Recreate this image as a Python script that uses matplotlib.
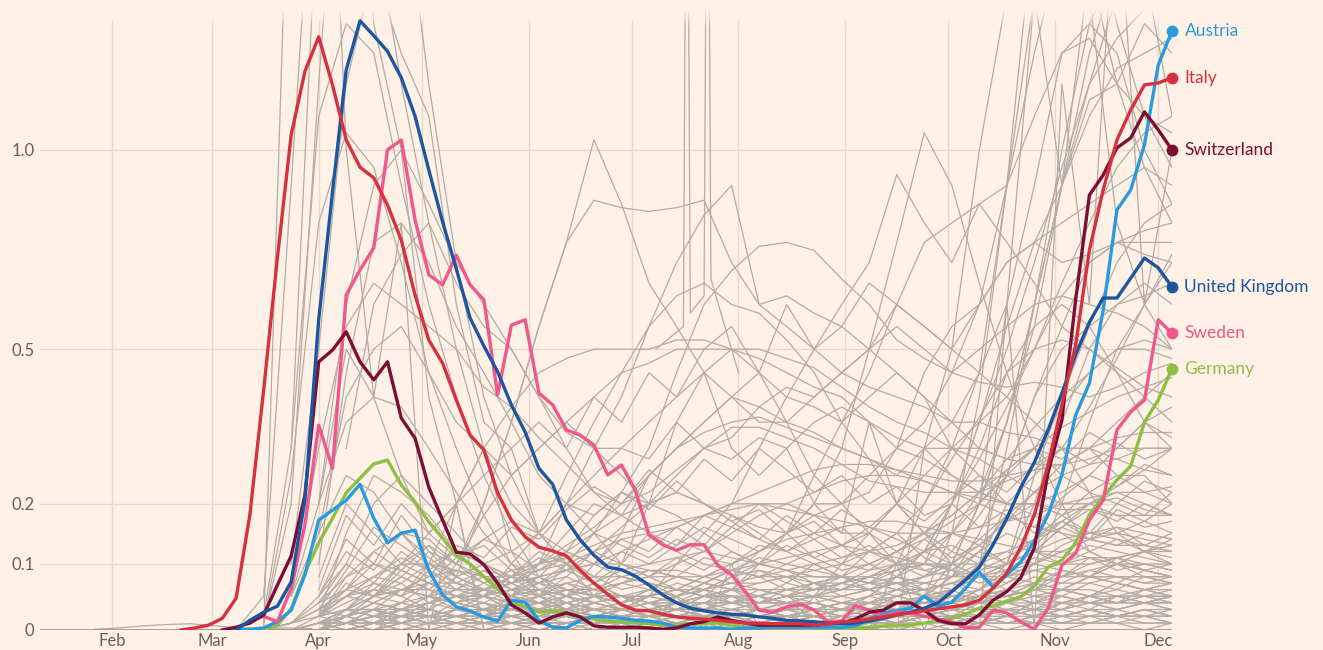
import numpy as np
import pandas as pd
import matplotlib
matplotlib.use('Agg')
import matplotlib.pyplot as plt

n = np.nan

# highlighted countries, one value every 4 days, 21 Feb -> 5 Dec 2020
dates = pd.date_range('2020-02-21', '2020-12-05', freq='4D')

italy = [0.0, 0.003, 0.007, 0.017, 0.047, 0.181, 0.414, 0.712, 1.044, 1.24, 1.355, 1.197, 1.029, 0.951,
         0.921, 0.847, 0.756, 0.622, 0.520, 0.470, 0.394, 0.325, 0.297, 0.219, 0.172, 0.144, 0.127, 0.121,
         0.113, 0.090, 0.070, 0.053, 0.037, 0.029, 0.028, 0.023, 0.019, 0.017, 0.016, 0.014, 0.012, 0.010,
         0.010, 0.009, 0.009, 0.009, 0.007, 0.009, 0.012, 0.013, 0.016, 0.019, 0.022, 0.025, 0.028, 0.031,
         0.034, 0.037, 0.044, 0.062, 0.086, 0.126, 0.181, 0.269, 0.384, 0.509, 0.731, 0.888, 1.029, 1.119,
         1.197, 1.203, 1.22]
uk = [0.0, 0.014, 0.026, 0.035, 0.072, 0.206, 0.565, 0.881, 1.245, 1.41, 1.359, 1.306, 1.22, 1.10, 0.943,
      0.803, 0.684, 0.569, 0.507, 0.452, 0.384, 0.331, 0.263, 0.234, 0.172, 0.139, 0.114, 0.095, 0.091,
      0.081, 0.067, 0.052, 0.040, 0.032, 0.028, 0.025, 0.023, 0.022, 0.019, 0.017, 0.014, 0.013, 0.012,
      0.010, 0.009, 0.010, 0.013, 0.017, 0.022, 0.026, 0.032, 0.040, 0.057, 0.075, 0.095, 0.131, 0.175,
      0.228, 0.274, 0.335, 0.408, 0.488, 0.560, 0.615, 0.615, 0.662, 0.711, 0.687, 0.641]
switzerland = [0.0, 0.004, 0.010, 0.022, 0.067, 0.113, 0.215, 0.473, 0.498, 0.538, 0.473, 0.435, 0.473,
               0.358, 0.319, 0.229, 0.172, 0.119, 0.116, 0.099, 0.070, 0.037, 0.025, 0.010, 0.019, 0.025,
               0.019, 0.006, 0.004, 0.004, 0.004, 0.003, 0.001, 0.003, 0.009, 0.012, 0.019, 0.014, 0.010,
               0.007, 0.007, 0.007, 0.007, 0.007, 0.009, 0.010, 0.016, 0.026, 0.029, 0.040, 0.040, 0.029,
               0.014, 0.009, 0.009, 0.022, 0.044, 0.057, 0.078, 0.126, 0.256, 0.354, 0.611, 0.874, 0.929,
               1.006, 1.035, 1.113, 1.059, 1.0]
sweden = [0.014, 0.020, 0.012, 0.062, 0.164, 0.344, 0.263, 0.622, 0.682, 0.736, 1.0, 1.029, 0.808, 0.670,
          0.646, 0.718, 0.646, 0.611, 0.404, 0.553, 0.565, 0.408, 0.384, 0.335, 0.325, 0.306, 0.251, 0.269,
          0.224, 0.147, 0.131, 0.122, 0.131, 0.131, 0.098, 0.083, 0.057, 0.029, 0.026, 0.034, 0.038, 0.029,
          0.012, 0.013, 0.036, 0.029, 0.020, 0.026, 0.025, 0.020, 0.016, 0.012, 0.003, 0.004, 0.029, 0.025,
          0.012, 0.001, 0.032, 0.098, 0.117, 0.172, 0.206, 0.335, 0.370, 0.394, 0.565, 0.535]
germany = [0.0, 0.001, 0.001, 0.007, 0.031, 0.086, 0.134, 0.175, 0.219, 0.245, 0.271, 0.278, 0.233, 0.203,
           0.169, 0.142, 0.114, 0.100, 0.080, 0.061, 0.043, 0.034, 0.026, 0.028, 0.025, 0.019, 0.016, 0.013,
           0.012, 0.010, 0.009, 0.007, 0.007, 0.009, 0.009, 0.010, 0.006, 0.004, 0.003, 0.003, 0.003, 0.003,
           0.003, 0.003, 0.003, 0.003, 0.004, 0.006, 0.006, 0.007, 0.010, 0.013, 0.017, 0.023, 0.032, 0.035,
           0.043, 0.049, 0.066, 0.095, 0.106, 0.134, 0.181, 0.212, 0.242, 0.267, 0.350, 0.394, 0.458]
austria = [0.0, 0.001, 0.003, 0.012, 0.029, 0.083, 0.172, 0.189, 0.206, 0.234, 0.175, 0.134, 0.150, 0.155,
           0.090, 0.052, 0.034, 0.028, 0.019, 0.013, 0.044, 0.041, 0.014, 0.004, 0.003, 0.014, 0.020, 0.019,
           0.017, 0.014, 0.013, 0.010, 0.004, 0.003, 0.003, 0.003, 0.001, 0.003, 0.003, 0.004, 0.004, 0.004,
           0.004, 0.004, 0.004, 0.006, 0.016, 0.025, 0.028, 0.032, 0.050, 0.035, 0.041, 0.062, 0.087, 0.064,
           0.083, 0.103, 0.137, 0.181, 0.251, 0.364, 0.428, 0.587, 0.834, 0.888, 1.015, 1.261, 1.375]

names = ['Germany', 'Austria', 'Sweden', 'Switzerland', 'United Kingdom', 'Italy']
series = [germany, austria, sweden, switzerland, uk, italy]
colors = ['#8fbe45', '#2a9ae0', '#f0578b', '#7d0e33', '#1c56a0', '#d7303f']

# all other countries, one value every 8 days, 28 Jan -> 5 Dec (every series ends on 5 Dec)
grey_dates = pd.date_range('2020-01-28', '2020-12-05', freq='8D')
grey = [
    [0.0, 0.05, 0.9, 2.5, 2.6, 1.8, 1.2, 0.8, 0.5, 0.3, 0.12, 0.05, 0.03, 0.02, 0.02, 0.02, 0.03, 0.04, 0.06, 0.1, 0.15, 0.25, 0.35, 0.45, 0.6, 0.75, 0.8, 0.85, 0.9, 1.1, 1.3, 1.4, 1.3, 1.0, 0.85],
    [0.01, 0.2, 1.2, 2.8, 3.0, 2.0, 1.2, 0.7, 0.4, 0.25, 0.15, 0.1, 0.07, 0.05, 0.04, 0.05, 0.06, 0.08, 0.09, 0.08, 0.06, 0.06, 0.07, 0.1, 0.2, 0.3, 0.45, 0.9, 1.8, 3.5, 3.6, 2.5, 1.6, 1.1],
    [0.02, 0.3, 1.1, 1.4, 1.3, 0.9, 0.6, 0.4, 0.25, 0.15, 0.08, 0.05, 0.04, 0.03, 0.02, 0.02, 0.02, 0.02, 0.03, 0.04, 0.05, 0.1, 0.15, 0.2, 0.3, 0.35, 0.45, 0.6, 0.9, 1.3, 1.35, 1.2, 0.95, 0.8],
    [0.01, 0.25, 0.8, 1.05, 0.95, 0.7, 0.45, 0.3, 0.18, 0.1, 0.06, 0.04, 0.03, 0.02, 0.01, 0.01, 0.01, 0.01, 0.02, 0.02, 0.02, 0.03, 0.05, 0.08, 0.12, 0.2, 0.3, 0.45, 0.55, 0.6, 0.55, 0.45, 0.35, 0.3],
    [0.1, 0.5, 1.2, 1.6, 1.3, 1.1, 0.6, 0.35, 0.3, 0.15, 0.1, 0.05, 0.05, 0.03, 0.02, 0.02, 0.01, 0.01, 0.02, 0.02, 0.03, 0.03, 0.04, 0.05, 0.08, 0.1, 0.2, 0.25, 0.3, 0.22, 0.15, 0.12, 0.1],
    [0.0, 2.5, 4.0, 1.0, 0.4, 0.8, 0.0, 0.2, 0.0, 0.0, 0.0, 0.0, 0.0, 0.0, 0.0, 0.0, 0.0, 0.0, 0.0, 0.0, 0.0, 0.0, 0.0, 0.0, 0.0, 0.0, 0.0, 0.6, 0.0, 1.2, 0.6, 2.0, 0.6, 1.0],
    [0.3, 2.0, 3.0, 1.4, 1.0, 0.4, 0.2, 0.0, 0.0, 0.0, 0.0, 0.0, 0.0, 0.0, 0.0, 0.0, 0.0, 0.0, 0.0, 0.0, 0.0, 0.0, 0.0, 0.3, 0.5, 1.0, 1.5, 2.0, 2.2, 1.5, 0.8, 0.6, 0.5],
    [0.05, 0.3, 0.55, 0.65, 0.6, 0.55, 0.5, 0.42, 0.38, 0.32, 0.27, 0.22, 0.2, 0.22, 0.26, 0.3, 0.34, 0.34, 0.32, 0.3, 0.27, 0.24, 0.23, 0.22, 0.22, 0.22, 0.24, 0.26, 0.3, 0.38, 0.48, 0.6, 0.72],
    [0.1, 0.45, 0.75, 0.8, 0.7, 0.55, 0.45, 0.35, 0.25, 0.2, 0.15, 0.1, 0.08, 0.06, 0.05, 0.05, 0.04, 0.04, 0.03, 0.03, 0.03, 0.04, 0.04, 0.05, 0.06, 0.1, 0.2, 0.35, 0.5, 0.6, 0.65, 0.6],
    [0.2, 0.6, 0.9, 1.0, 0.85, 0.7, 0.6, 0.5, 0.4, 0.33, 0.3, 0.25, 0.2, 0.18, 0.15, 0.12, 0.1, 0.09, 0.08, 0.08, 0.08, 0.09, 0.1, 0.15, 0.22, 0.35, 0.55, 0.9, 1.2, 1.5, 1.7, 1.6],
    [0.15, 0.4, 0.5, 0.55, 0.45, 0.35, 0.3, 0.2, 0.15, 0.12, 0.1, 0.08, 0.07, 0.06, 0.05, 0.05, 0.04, 0.05, 0.06, 0.07, 0.09, 0.12, 0.15, 0.2, 0.28, 0.38, 0.5, 0.62, 0.7, 0.75, 0.72, 0.7],
    [0.3, 0.6, 0.72, 0.8, 0.65, 0.55, 0.5, 0.4, 0.3, 0.22, 0.18, 0.15, 0.12, 0.1, 0.09, 0.08, 0.08, 0.07, 0.07, 0.08, 0.1, 0.12, 0.15, 0.2, 0.25, 0.3, 0.38, 0.45, 0.5, 0.5, 0.48],
    [0.05, 0.2, 0.35, 0.4, 0.38, 0.3, 0.22, 0.15, 0.1, 0.08, 0.06, 0.05, 0.05, 0.04, 0.04, 0.04, 0.05, 0.05, 0.06, 0.07, 0.08, 0.1, 0.12, 0.15, 0.18, 0.22, 0.28, 0.34, 0.4, 0.45, 0.5, 0.52, 0.5],
    [0.05, 0.15, 0.25, 0.22, 0.15, 0.1, 0.07, 0.05, 0.03, 0.02, 0.02, 0.01, 0.01, 0.01, 0.01, 0.01, 0.01, 0.01, 0.01, 0.01, 0.01, 0.01, 0.02, 0.02, 0.03, 0.04, 0.05, 0.06, 0.08, 0.09, 0.1, 0.12, 0.14],
    [0.02, 0.15, 0.25, 0.22, 0.18, 0.12, 0.1, 0.08, 0.07, 0.06, 0.05, 0.05, 0.05, 0.04, 0.04, 0.04, 0.03, 0.03, 0.03, 0.04, 0.05, 0.06, 0.08, 0.12, 0.18, 0.25, 0.4, 0.55, 0.7, 0.75, 0.75, 0.75],
    [0.03, 0.08, 0.2, 0.35, 0.55, 0.75, 1.03, 0.85, 0.65, 0.55, 0.45, 0.4, 0.35, 0.35, 0.33, 0.3, 0.28, 0.25, 0.3, 0.25, 0.22, 0.2, 0.2, 0.18, 0.15, 0.15, 0.14, 0.13],
    [0.1, 0.2, 0.35, 0.55, 0.75, 0.86, 0.84, 0.83, 0.84, 0.86, 0.7, 0.6, 0.62, 0.58, 0.55, 0.5, 0.45, 0.4, 0.3, 0.25, 0.2, 0.18, 0.15, 0.12, 0.1, 0.1, 0.09],
    [0.05, 0.1, 0.18, 0.25, 0.3, 0.35, 0.4, 0.45, 0.47, 0.5, 0.5, 0.5, 0.48, 0.45, 0.42, 0.4, 0.35, 0.32, 0.3, 0.3, 0.3, 0.28, 0.27, 0.27, 0.3, 0.35, 0.4, 0.45],
    [0.05, 0.1, 0.2, 0.3, 0.38, 0.45, 0.48, 0.5, 0.5, 0.5, 0.52, 0.52, 0.5, 0.5, 0.48, 0.46, 0.42, 0.38, 0.35, 0.33, 0.3, 0.28, 0.25, 0.22, 0.2, 0.2, 0.23, 0.26, 0.3],
    [0.05, 0.1, 0.15, 0.22, 0.3, 0.45, 0.6, 0.68, 0.74, 0.75, 0.73, 0.66, 0.6, 0.52, 0.48, 0.45, 0.43, 0.42, 0.43, 0.42, 0.4, 0.42, 0.45, 0.47],
    [0.05, 0.1, 0.15, 0.25, 0.35, 0.45, 0.55, 0.7, 0.82, 0.9, 0.6, 0.55, 0.5, 0.45, 0.42, 0.4, 0.38, 0.35, 0.35, 0.33, 0.32, 0.3, 0.3, 0.28, 0.3, 0.3],
    [0.02, 0.03, 0.05, 0.1, 0.15, 0.2, 0.3, 0.4, 0.5, 0.6, 0.7, 0.93, 0.8, 0.7, 0.85, 0.75, 0.65, 0.55, 0.5, 0.45, 0.4, 0.35],
    [0.05, 0.06, 0.08, 0.1, 0.12, 0.15, 0.2, 0.3, 0.5, 0.75, 1.05, 0.9, 0.65, 0.45, 0.3, 0.2, 0.12, 0.1, 0.08, 0.07],
    [0.05, 0.1, 0.2, 0.3, 0.4, 0.55, 0.62, 0.65, 0.6, 0.58, 0.52, 0.45, 0.35, 0.28, 0.2, 0.15, 0.1, 0.08, 0.06, 0.05, 0.05, 0.04, 0.04, 0.04, 0.05],
    [0.2, 0.5, 0.4, 0.25, 0.15, 0.2, 0.3, 0.25, 0.3, 0.35, 0.3, 0.3, 0.35, 0.4, 0.45, 0.3, 0.25, 0.3, 0.2, 0.15, 0.35, 0.2, 0.15, 0.12, 0.1, 0.12, 0.1, 0.09, 0.08, 0.08, 0.07, 0.07],
    [0.05, 0.1, 0.15, 0.25, 0.3, 0.35, 0.4, 0.45, 0.4, 0.38, 0.35, 0.4, 0.45, 0.4, 0.35, 0.3, 0.28, 0.3, 0.25, 0.22, 0.25, 0.22, 0.2],
    [0.03, 0.05, 0.1, 0.2, 0.35, 0.45, 0.5, 0.45, 0.35, 0.25, 0.2, 0.15, 0.1, 0.09, 0.08, 0.08, 0.09, 0.1, 0.12, 0.14, 0.15, 0.17, 0.2],
    [0.0, 0.0, 0.0, 0.0, 0.0, 0.0, 0.0, 0.0, 0.01, 0.02, 0.05, 0.15, 0.4, 0.9, 1.5, 2.2, 1.8, 1.4, 1.1, 0.95],
    [0.02, 0.03, 0.05, 0.08, 0.12, 0.15, 0.18, 0.2, 0.25, 0.3, 0.35, 0.45, 0.6, 0.9, 1.3, 1.7, 2.0, 2.0, 1.9, 1.8],
    [0.01, 0.01, 0.01, 0.01, 0.01, 0.01, 0.02, 0.03, 0.05, 0.08, 0.12, 0.2, 0.35, 0.5, 0.7, 0.95, 1.2, 1.35, 1.45, 1.5],
    [0.01, 0.01, 0.01, 0.01, 0.02, 0.02, 0.02, 0.03, 0.03, 0.04, 0.05, 0.1, 0.2, 0.35, 0.6, 0.9, 1.15, 1.2, 1.1, 1.05],
    [0.0, 0.0, 0.0, 0.0, 0.0, 0.0, 0.0, 0.0, 0.0, 0.01, 0.03, 0.06, 0.1, 0.3, 0.6, 1.0, 1.4, 1.6, 1.7, 1.8],
    [0.03, 0.03, 0.04, 0.04, 0.04, 0.04, 0.05, 0.05, 0.06, 0.07, 0.08, 0.1, 0.2, 0.35, 0.6, 0.9, 1.3, 1.6, 1.9, 2.0],
    [0.02, 0.05, 0.08, 0.1, 0.1, 0.09, 0.08, 0.08, 0.09, 0.1, 0.12, 0.14, 0.15, 0.16, 0.18, 0.2, 0.2, 0.2, 0.18, 0.15, 0.15, 0.2, 0.25, 0.3, 0.35, 0.4, 0.5, 0.65, 0.8, 0.95, 1.05, 1.1],
    [0.0, 0.01, 0.02, 0.03, 0.04, 0.05, 0.06, 0.08, 0.1, 0.12, 0.15, 0.18, 0.2, 0.22, 0.2, 0.18, 0.16, 0.15, 0.2, 0.2, 0.22, 0.3, 0.45, 0.55, 0.6, 0.7, 0.75, 0.8, 0.85, 0.9, 0.95, 0.9],
    [0.0, 0.05, 0.0, 0.1, 0.0, 0.0, 0.05, 0.0, 0.0, 0.1, 0.0, 0.1, 0.2, 0.6, 1.5, 0.9, 1.6, 1.2, 1.4, 1.3],
    [0.02, 0.02, 0.03, 0.03, 0.03, 0.04, 0.05, 0.06, 0.08, 0.1, 0.1, 0.2, 0.35, 0.55, 0.75, 0.9, 1.1, 1.25, 1.3, 1.35],
    [0.02, 0.02, 0.02, 0.02, 0.02, 0.03, 0.03, 0.03, 0.04, 0.05, 0.06, 0.07, 0.08, 0.1, 0.25, 0.4, 0.55, 0.7, 0.8, 0.85],
    [0.01, 0.01, 0.01, 0.01, 0.01, 0.01, 0.01, 0.01, 0.01, 0.01, 0.02, 0.03, 0.05, 0.08, 0.1, 0.2, 0.35, 0.5, 0.6, 0.7],
    [0.01, 0.03, 0.05, 0.06, 0.06, 0.05, 0.05, 0.04, 0.04, 0.04, 0.05, 0.05, 0.05, 0.06, 0.06, 0.07, 0.07, 0.08, 0.08, 0.08, 0.07, 0.07, 0.07, 0.08, 0.15, 0.25, 0.4, 0.5, 0.55, 0.6, 0.62, 0.65],
    [0.05, 0.1, 0.15, 0.2, 0.25, 0.3, 0.35, 0.3, 0.4, 0.35, 0.45, 0.4, 0.5, 0.55, 0.45, 0.6, 0.5, 0.55, 0.65, 0.6, 0.55, 0.5, 0.45, 0.4, 0.35, 0.3, 0.3, 0.25, 0.25, 0.2],
    [0.05, 0.08, 0.1, 0.12, 0.15, 0.2, 0.25, 0.3, 0.28, 0.35, 0.3, 0.32, 0.38, 0.42, 0.4, 0.45, 0.5, 0.55, 0.5, 0.45, 0.5, 0.55, 0.6, 0.62, 0.6, 0.58, 0.55, 0.5],
    [0.02, 0.05, 0.08, 0.12, 0.18, 0.22, 0.2, 0.25, 0.3, 0.28, 0.32, 0.3, 0.35, 0.38, 0.35, 0.3, 0.28, 0.25, 0.22, 0.2, 0.2, 0.22, 0.25, 0.3, 0.35, 0.38],
    [0.1, 0.15, 0.2, 0.18, 0.25, 0.3, 0.35, 0.4, 0.38, 0.35, 0.4, 0.45, 0.5, 0.6, 0.55, 0.5, 0.6, 0.7, 0.75, 0.7, 0.72, 0.75, 0.78, 0.8],
    # mid-level, jagged
    [0.05, 0.12, 0.09, 0.15, 0.11, 0.08, 0.1, 0.07, 0.09, 0.12, 0.1, 0.14, 0.12, 0.16, 0.13, 0.18, 0.15, 0.12, 0.14, 0.11, 0.13, 0.1, 0.12, 0.15, 0.13, 0.17, 0.2, 0.18, 0.22, 0.2, 0.24, 0.22],
    [0.02, 0.06, 0.1, 0.08, 0.12, 0.1, 0.14, 0.17, 0.15, 0.2, 0.18, 0.22, 0.19, 0.24, 0.2, 0.17, 0.19, 0.15, 0.17, 0.13, 0.15, 0.12, 0.14, 0.11, 0.13, 0.1, 0.12, 0.1, 0.11, 0.09, 0.1, 0.09],
    [0.08, 0.2, 0.15, 0.1, 0.13, 0.08, 0.06, 0.08, 0.05, 0.07, 0.05, 0.04, 0.06, 0.05, 0.07, 0.06, 0.09, 0.07, 0.1, 0.08, 0.12, 0.1, 0.14, 0.17, 0.2, 0.26, 0.3, 0.28, 0.33, 0.3, 0.35, 0.32],
    [0.01, 0.03, 0.06, 0.1, 0.08, 0.13, 0.11, 0.16, 0.14, 0.19, 0.23, 0.2, 0.26, 0.22, 0.28, 0.24, 0.3, 0.26, 0.22, 0.25, 0.2, 0.23, 0.18, 0.2, 0.16, 0.19, 0.15, 0.17, 0.14, 0.16, 0.13, 0.15],
    [0.04, 0.1, 0.07, 0.12, 0.09, 0.06, 0.08, 0.05, 0.07, 0.09, 0.12, 0.1, 0.15, 0.13, 0.18, 0.16, 0.2, 0.17, 0.14, 0.16, 0.12, 0.15, 0.11, 0.09, 0.12, 0.1, 0.14, 0.17, 0.15, 0.2, 0.18, 0.22],
    [0.0, 0.02, 0.05, 0.04, 0.07, 0.06, 0.09, 0.08, 0.12, 0.1, 0.15, 0.13, 0.11, 0.14, 0.12, 0.16, 0.14, 0.18, 0.15, 0.19, 0.16, 0.2, 0.17, 0.21, 0.25, 0.22, 0.27, 0.3, 0.27, 0.31, 0.28, 0.3],
    [0.05, 0.14, 0.1, 0.18, 0.12, 0.08, 0.06, 0.04, 0.05, 0.03, 0.04, 0.03, 0.05, 0.04, 0.06, 0.05, 0.04, 0.06, 0.05, 0.07, 0.06, 0.08, 0.1, 0.09, 0.12, 0.15, 0.13, 0.17, 0.2, 0.18, 0.16, 0.17],
    [0.02, 0.08, 0.12, 0.09, 0.13, 0.1, 0.07, 0.09, 0.06, 0.05, 0.07, 0.05, 0.04, 0.03, 0.04, 0.02, 0.03, 0.02, 0.03, 0.02, 0.04, 0.03, 0.05, 0.04, 0.06, 0.09, 0.12, 0.16, 0.14, 0.19, 0.17, 0.15],
    [0.0, 0.03, 0.07, 0.05, 0.09, 0.12, 0.1, 0.08, 0.11, 0.09, 0.07, 0.1, 0.08, 0.11, 0.09, 0.12, 0.1, 0.13, 0.11, 0.09, 0.1, 0.08, 0.07, 0.06, 0.08, 0.07, 0.09, 0.08, 0.11, 0.1, 0.12, 0.11],
    [0.03, 0.09, 0.16, 0.13, 0.1, 0.12, 0.08, 0.06, 0.07, 0.05, 0.03, 0.04, 0.02, 0.03, 0.02, 0.01, 0.02, 0.01, 0.02, 0.01, 0.02, 0.01, 0.02, 0.03, 0.05, 0.04, 0.06, 0.09, 0.08, 0.11, 0.09, 0.08],
    [0.0, 0.01, 0.03, 0.02, 0.04, 0.06, 0.05, 0.08, 0.07, 0.1, 0.08, 0.12, 0.1, 0.13, 0.16, 0.14, 0.12, 0.15, 0.11, 0.13, 0.1, 0.12, 0.09, 0.1, 0.08, 0.09, 0.11, 0.1, 0.12, 0.14, 0.12, 0.13],
    [0.01, 0.02, 0.05, 0.09, 0.07, 0.11, 0.14, 0.12, 0.09, 0.11, 0.08, 0.06, 0.07, 0.05, 0.06, 0.04, 0.05, 0.07, 0.06, 0.08, 0.07, 0.09, 0.12, 0.1, 0.14, 0.18, 0.16, 0.21, 0.25, 0.23, 0.27, 0.25],
    [0.06, 0.18, 0.13, 0.2, 0.15, 0.11, 0.13, 0.09, 0.07, 0.08, 0.06, 0.05, 0.04, 0.05, 0.03, 0.04, 0.03, 0.02, 0.03, 0.02, 0.03, 0.04, 0.03, 0.05, 0.04, 0.06, 0.08, 0.07, 0.09, 0.08, 0.07, 0.08],
    [0.02, 0.05, 0.08, 0.11, 0.09, 0.07, 0.09, 0.06, 0.08, 0.06, 0.05, 0.07, 0.09, 0.08, 0.11, 0.1, 0.13, 0.12, 0.15, 0.13, 0.16, 0.14, 0.12, 0.13, 0.11, 0.12, 0.14, 0.16, 0.19, 0.17, 0.2, 0.18],
    # smaller countries near the floor
    [0.0, 0.01, 0.04, 0.08, 0.1, 0.09, 0.07, 0.05, 0.04, 0.03, 0.02, 0.02, 0.01, 0.01, 0.01, 0.01, 0.01, 0.01, 0.02, 0.02, 0.02, 0.03, 0.03, 0.04, 0.05, 0.06, 0.08, 0.1, 0.12, 0.14, 0.15, 0.14, 0.13, 0.12],
    [0.0, 0.0, 0.01, 0.03, 0.05, 0.06, 0.05, 0.04, 0.05, 0.04, 0.03, 0.03, 0.02, 0.02, 0.03, 0.04, 0.05, 0.06, 0.05, 0.04, 0.04, 0.03, 0.03, 0.03, 0.04, 0.04, 0.05, 0.06, 0.07, 0.08, 0.1, 0.11, 0.12, 0.13],
    [0.0, 0.0, 0.0, 0.01, 0.02, 0.02, 0.03, 0.02, 0.02, 0.03, 0.04, 0.05, 0.07, 0.09, 0.1, 0.11, 0.12, 0.11, 0.1, 0.09, 0.08, 0.08, 0.07, 0.06, 0.06, 0.05, 0.05, 0.05, 0.06, 0.06, 0.06, 0.05, 0.05, 0.05],
    [0.0, 0.01, 0.02, 0.03, 0.03, 0.02, 0.02, 0.01, 0.01, 0.01, 0.01, 0.0, 0.0, 0.0, 0.0, 0.01, 0.01, 0.01, 0.01, 0.01, 0.01, 0.01, 0.02, 0.03, 0.05, 0.08, 0.12, 0.18, 0.22, 0.25, 0.27, 0.28, 0.26, 0.25],
    [0.0, 0.0, 0.0, 0.0, 0.01, 0.01, 0.02, 0.02, 0.03, 0.03, 0.04, 0.05, 0.06, 0.07, 0.08, 0.08, 0.07, 0.06, 0.06, 0.05, 0.05, 0.04, 0.04, 0.04, 0.03, 0.03, 0.03, 0.03, 0.02, 0.02, 0.03, 0.03, 0.04, 0.04],
    [0.0, 0.01, 0.03, 0.06, 0.12, 0.15, 0.14, 0.1, 0.08, 0.06, 0.04, 0.03, 0.02, 0.01, 0.01, 0.01, 0.01, 0.01, 0.01, 0.02, 0.02, 0.03, 0.04, 0.05, 0.07, 0.08, 0.09, 0.1, 0.12, 0.16, 0.2, 0.22, 0.2, 0.18],
    [0.0, 0.0, 0.0, 0.01, 0.02, 0.04, 0.05, 0.06, 0.06, 0.07, 0.08, 0.09, 0.1, 0.1, 0.09, 0.08, 0.08, 0.09, 0.1, 0.11, 0.12, 0.13, 0.12, 0.11, 0.1, 0.09, 0.08, 0.08, 0.09, 0.1, 0.1, 0.11, 0.12, 0.12],
    [0.0, 0.0, 0.01, 0.01, 0.02, 0.02, 0.02, 0.01, 0.01, 0.01, 0.01, 0.01, 0.01, 0.02, 0.02, 0.02, 0.03, 0.03, 0.04, 0.05, 0.06, 0.07, 0.06, 0.05, 0.04, 0.04, 0.03, 0.03, 0.03, 0.04, 0.04, 0.05, 0.05, 0.05],
    [0.0, 0.0, 0.0, 0.0, 0.0, 0.01, 0.01, 0.01, 0.02, 0.03, 0.05, 0.08, 0.12, 0.16, 0.2, 0.22, 0.2, 0.17, 0.14, 0.12, 0.1, 0.08, 0.07, 0.06, 0.05, 0.05, 0.04, 0.04, 0.04, 0.04, 0.05, 0.05, 0.06, 0.06],
    [0.0, 0.01, 0.05, 0.1, 0.2, 0.25, 0.2, 0.15, 0.1, 0.07, 0.05, 0.04, 0.03, 0.03, 0.03, 0.04, 0.05, 0.06, 0.07, 0.08, 0.09, 0.1, 0.12, 0.15, 0.2, 0.28, 0.36, 0.45, 0.5, 0.52, 0.5, 0.46, 0.42, 0.4],
    [0.0, 0.0, 0.0, 0.01, 0.01, 0.01, 0.0, 0.0, 0.0, 0.0, 0.0, 0.0, 0.0, 0.0, 0.0, 0.0, 0.0, 0.0, 0.0, 0.0, 0.0, 0.0, 0.0, 0.0, 0.0, 0.0, 0.01, 0.01, 0.01, 0.01, 0.02, 0.02, 0.02, 0.02],
    [0.0, 0.0, 0.01, 0.02, 0.03, 0.04, 0.03, 0.02, 0.02, 0.01, 0.01, 0.01, 0.01, 0.01, 0.02, 0.02, 0.02, 0.02, 0.03, 0.03, 0.03, 0.04, 0.04, 0.05, 0.06, 0.07, 0.09, 0.11, 0.14, 0.18, 0.2, 0.21, 0.19, 0.18],
    [0.0, 0.0, 0.0, 0.0, 0.01, 0.02, 0.03, 0.05, 0.07, 0.09, 0.1, 0.11, 0.13, 0.15, 0.16, 0.17, 0.18, 0.19, 0.2, 0.19, 0.18, 0.17, 0.16, 0.15, 0.15, 0.15, 0.16, 0.17, 0.18, 0.2, 0.21, 0.22, 0.22, 0.23],
    [0.0, 0.0, 0.01, 0.02, 0.04, 0.03, 0.02, 0.02, 0.01, 0.01, 0.01, 0.01, 0.02, 0.02, 0.03, 0.03, 0.02, 0.02, 0.02, 0.02, 0.02, 0.02, 0.02, 0.03, 0.03, 0.04, 0.05, 0.05, 0.06, 0.07, 0.07, 0.08, 0.08, 0.08],
    [0.0, 0.0, 0.0, 0.01, 0.01, 0.02, 0.02, 0.02, 0.02, 0.02, 0.03, 0.03, 0.03, 0.04, 0.05, 0.06, 0.08, 0.1, 0.12, 0.14, 0.15, 0.16, 0.17, 0.17, 0.16, 0.15, 0.14, 0.13, 0.12, 0.12, 0.11, 0.11, 0.1, 0.1],
    [0.0, 0.0, 0.0, 0.0, 0.0, 0.0, 0.0, 0.01, 0.01, 0.01, 0.01, 0.01, 0.01, 0.01, 0.01, 0.02, 0.02, 0.02, 0.02, 0.01, 0.01, 0.01, 0.01, 0.01, 0.01, 0.01, 0.01, 0.01, 0.01, 0.01, 0.01, 0.01, 0.01, 0.01],
    [0.0, 0.0, 0.02, 0.05, 0.07, 0.06, 0.05, 0.04, 0.03, 0.03, 0.02, 0.02, 0.02, 0.02, 0.02, 0.03, 0.03, 0.04, 0.04, 0.05, 0.05, 0.06, 0.06, 0.07, 0.08, 0.1, 0.13, 0.17, 0.22, 0.27, 0.3, 0.32, 0.33, 0.33],
    [0.0, 0.0, 0.0, 0.0, 0.01, 0.02, 0.02, 0.03, 0.03, 0.04, 0.05, 0.06, 0.06, 0.07, 0.08, 0.1, 0.12, 0.15, 0.18, 0.2, 0.22, 0.24, 0.25, 0.25, 0.24, 0.22, 0.2, 0.18, 0.16, 0.15, 0.14, 0.13, 0.13, 0.12],
    [0.0, 0.0, 0.01, 0.02, 0.03, 0.03, 0.03, 0.02, 0.02, 0.02, 0.01, 0.01, 0.01, 0.01, 0.01, 0.01, 0.01, 0.01, 0.01, 0.01, 0.01, 0.01, 0.01, 0.01, 0.02, 0.02, 0.02, 0.03, 0.03, 0.03, 0.04, 0.04, 0.04, 0.04],
    [0.0, 0.0, 0.0, 0.01, 0.03, 0.06, 0.08, 0.09, 0.08, 0.07, 0.08, 0.09, 0.1, 0.12, 0.14, 0.16, 0.18, 0.2, 0.22, 0.24, 0.26, 0.27, 0.27, 0.26, 0.25, 0.24, 0.24, 0.25, 0.26, 0.27, 0.28, 0.3, 0.3, 0.3],
    [0.0, 0.0, 0.0, 0.0, 0.0, 0.0, 0.01, 0.01, 0.01, 0.02, 0.02, 0.02, 0.03, 0.03, 0.04, 0.04, 0.05, 0.05, 0.05, 0.04, 0.04, 0.03, 0.03, 0.02, 0.02, 0.02, 0.02, 0.02, 0.02, 0.02, 0.02, 0.02, 0.02, 0.02],
    [0.0, 0.01, 0.03, 0.05, 0.06, 0.05, 0.03, 0.02, 0.01, 0.01, 0.01, 0.0, 0.0, 0.0, 0.0, 0.0, 0.0, 0.0, 0.0, 0.0, 0.0, 0.0, 0.01, 0.01, 0.02, 0.03, 0.05, 0.07, 0.1, 0.13, 0.15, 0.16, 0.15, 0.14],
    [0.0, 0.0, 0.0, 0.01, 0.02, 0.03, 0.04, 0.05, 0.05, 0.06, 0.06, 0.07, 0.08, 0.08, 0.09, 0.09, 0.08, 0.07, 0.06, 0.06, 0.06, 0.07, 0.08, 0.09, 0.1, 0.1, 0.1, 0.09, 0.09, 0.08, 0.08, 0.08, 0.08, 0.08],
    [0.0, 0.0, 0.0, 0.0, 0.0, 0.01, 0.02, 0.03, 0.05, 0.07, 0.1, 0.13, 0.16, 0.2, 0.25, 0.3, 0.33, 0.35, 0.36, 0.34, 0.32, 0.3, 0.28, 0.26, 0.24, 0.22, 0.21, 0.2, 0.2, 0.19, 0.19, 0.18, 0.18, 0.18],
    [0.0, 0.0, 0.01, 0.02, 0.04, 0.06, 0.07, 0.07, 0.06, 0.05, 0.04, 0.03, 0.03, 0.03, 0.04, 0.05, 0.06, 0.07, 0.08, 0.09, 0.1, 0.11, 0.12, 0.13, 0.15, 0.18, 0.22, 0.26, 0.3, 0.34, 0.37, 0.4, 0.42, 0.44],
    [0.01, 0.03, 0.02, 0.04, 0.03, 0.02, 0.03, 0.01, 0.02, 0.01, 0.02, 0.03, 0.02, 0.04, 0.03, 0.05, 0.03, 0.04, 0.02, 0.03, 0.02, 0.03, 0.04, 0.03, 0.05, 0.04, 0.06, 0.05, 0.07, 0.06, 0.08, 0.07],
    [0.0, 0.01, 0.02, 0.01, 0.03, 0.02, 0.01, 0.02, 0.01, 0.0, 0.01, 0.02, 0.01, 0.01, 0.02, 0.01, 0.02, 0.03, 0.02, 0.01, 0.02, 0.01, 0.02, 0.03, 0.02, 0.04, 0.03, 0.05, 0.04, 0.03, 0.04, 0.03],
    [0.02, 0.05, 0.04, 0.06, 0.05, 0.03, 0.04, 0.02, 0.03, 0.02, 0.01, 0.02, 0.01, 0.02, 0.01, 0.02, 0.01, 0.01, 0.02, 0.01, 0.02, 0.02, 0.03, 0.02, 0.04, 0.05, 0.04, 0.06, 0.05, 0.04, 0.05, 0.04],
    [0.0, 0.0, 0.01, 0.0, 0.01, 0.0, 0.01, 0.01, 0.0, 0.01, 0.0, 0.01, 0.02, 0.01, 0.02, 0.01, 0.0, 0.01, 0.0, 0.01, 0.01, 0.0, 0.01, 0.02, 0.01, 0.02, 0.03, 0.02, 0.03, 0.02, 0.03, 0.02],
    [0.01, 0.02, 0.04, 0.03, 0.05, 0.04, 0.06, 0.05, 0.04, 0.06, 0.05, 0.07, 0.06, 0.05, 0.07, 0.06, 0.05, 0.04, 0.05, 0.04, 0.03, 0.04, 0.03, 0.04, 0.05, 0.04, 0.05, 0.06, 0.05, 0.06, 0.05, 0.06],
    [0.03, 0.02, 0.03, 0.01, 0.02, 0.01, 0.0, 0.01, 0.0, 0.01, 0.0, 0.0, 0.01, 0.0, 0.01, 0.0, 0.01, 0.0, 0.0, 0.01, 0.0, 0.01, 0.01, 0.02, 0.01, 0.02, 0.04, 0.06, 0.08, 0.1, 0.09, 0.08],
    [0.0, 0.02, 0.01, 0.03, 0.02, 0.04, 0.03, 0.05, 0.04, 0.03, 0.05, 0.04, 0.06, 0.08, 0.07, 0.09, 0.08, 0.1, 0.09, 0.08, 0.07, 0.08, 0.06, 0.07, 0.05, 0.06, 0.05, 0.04, 0.05, 0.04, 0.05, 0.04],
    [0.01, 0.01, 0.02, 0.02, 0.01, 0.02, 0.01, 0.01, 0.02, 0.03, 0.02, 0.03, 0.04, 0.03, 0.02, 0.03, 0.02, 0.03, 0.04, 0.03, 0.04, 0.03, 0.02, 0.03, 0.02, 0.03, 0.02, 0.01, 0.02, 0.01, 0.02, 0.01],
    [0.02, 0.04, 0.06, 0.05, 0.07, 0.05, 0.04, 0.03, 0.04, 0.02, 0.03, 0.02, 0.01, 0.02, 0.01, 0.02, 0.03, 0.02, 0.03, 0.04, 0.03, 0.05, 0.04, 0.06, 0.08, 0.1, 0.12, 0.11, 0.13, 0.12, 0.11, 0.1],
    [0.0, 0.01, 0.0, 0.02, 0.01, 0.03, 0.02, 0.04, 0.03, 0.05, 0.04, 0.03, 0.04, 0.02, 0.03, 0.02, 0.01, 0.02, 0.01, 0.02, 0.01, 0.01, 0.02, 0.01, 0.02, 0.01, 0.02, 0.01, 0.01, 0.02, 0.01, 0.01],
    [0.01, 0.03, 0.05, 0.08, 0.06, 0.09, 0.07, 0.05, 0.06, 0.04, 0.05, 0.03, 0.04, 0.03, 0.05, 0.04, 0.06, 0.05, 0.07, 0.06, 0.08, 0.07, 0.06, 0.07, 0.06, 0.08, 0.07, 0.09, 0.08, 0.1, 0.09, 0.1],
    [0.0, 0.0, 0.01, 0.01, 0.0, 0.01, 0.01, 0.02, 0.01, 0.02, 0.01, 0.03, 0.02, 0.04, 0.03, 0.02, 0.03, 0.02, 0.01, 0.02, 0.01, 0.02, 0.03, 0.02, 0.03, 0.04, 0.03, 0.02, 0.03, 0.02, 0.03, 0.03],
    [0.02, 0.03, 0.03, 0.02, 0.04, 0.03, 0.05, 0.04, 0.06, 0.05, 0.04, 0.05, 0.03, 0.04, 0.02, 0.03, 0.02, 0.03, 0.04, 0.03, 0.02, 0.03, 0.02, 0.01, 0.02, 0.03, 0.02, 0.04, 0.03, 0.05, 0.04, 0.05],
    [0.01, 0.0, 0.01, 0.0, 0.01, 0.01, 0.0, 0.01, 0.0, 0.01, 0.0, 0.01, 0.0, 0.01, 0.0, 0.01, 0.0, 0.01, 0.0, 0.01, 0.0, 0.0, 0.01, 0.0, 0.01, 0.0, 0.01, 0.0, 0.01, 0.01, 0.0, 0.01],
    [0.03, 0.06, 0.08, 0.07, 0.1, 0.08, 0.06, 0.07, 0.05, 0.06, 0.04, 0.05, 0.06, 0.08, 0.07, 0.09, 0.11, 0.1, 0.12, 0.1, 0.09, 0.1, 0.08, 0.09, 0.07, 0.08, 0.1, 0.12, 0.14, 0.13, 0.15, 0.14],
    [0.0, 0.01, 0.01, 0.02, 0.03, 0.02, 0.03, 0.02, 0.03, 0.04, 0.05, 0.04, 0.05, 0.06, 0.05, 0.04, 0.05, 0.03, 0.04, 0.03, 0.02, 0.03, 0.02, 0.01, 0.02, 0.01, 0.02, 0.02, 0.03, 0.02, 0.02, 0.03],
    [0.01, 0.02, 0.01, 0.02, 0.01, 0.02, 0.03, 0.02, 0.03, 0.02, 0.04, 0.03, 0.02, 0.03, 0.04, 0.03, 0.04, 0.05, 0.04, 0.05, 0.04, 0.06, 0.05, 0.04, 0.06, 0.05, 0.07, 0.06, 0.08, 0.07, 0.06, 0.07],
    [0.02, 0.01, 0.02, 0.03, 0.02, 0.01, 0.02, 0.01, 0.0, 0.01, 0.02, 0.01, 0.0, 0.01, 0.0, 0.01, 0.0, 0.01, 0.02, 0.01, 0.0, 0.01, 0.0, 0.01, 0.02, 0.03, 0.02, 0.04, 0.05, 0.07, 0.06, 0.05],
    [0.0, 0.02, 0.04, 0.03, 0.02, 0.03, 0.04, 0.06, 0.05, 0.07, 0.06, 0.08, 0.07, 0.06, 0.05, 0.06, 0.04, 0.05, 0.03, 0.04, 0.05, 0.04, 0.03, 0.04, 0.03, 0.02, 0.03, 0.02, 0.03, 0.02, 0.03, 0.02],
    [0.01, 0.01, 0.0, 0.01, 0.02, 0.01, 0.02, 0.01, 0.02, 0.03, 0.02, 0.01, 0.02, 0.01, 0.02, 0.03, 0.02, 0.03, 0.02, 0.01, 0.02, 0.01, 0.02, 0.01, 0.01, 0.02, 0.01, 0.02, 0.01, 0.02, 0.02, 0.01],
    [0.04, 0.06, 0.05, 0.07, 0.04, 0.05, 0.03, 0.04, 0.02, 0.03, 0.01, 0.02, 0.01, 0.02, 0.01, 0.01, 0.02, 0.01, 0.02, 0.03, 0.02, 0.03, 0.02, 0.03, 0.04, 0.03, 0.04, 0.05, 0.04, 0.05, 0.04, 0.05],
    [0.0, 0.01, 0.02, 0.03, 0.02, 0.03, 0.02, 0.04, 0.03, 0.02, 0.03, 0.02, 0.01, 0.02, 0.01, 0.02, 0.01, 0.02, 0.03, 0.02, 0.03, 0.02, 0.01, 0.02, 0.01, 0.02, 0.01, 0.02, 0.03, 0.02, 0.03, 0.02],
    [0.02, 0.07, 0.05, 0.08, 0.06, 0.04, 0.05, 0.03, 0.04, 0.03, 0.05, 0.04, 0.06, 0.05, 0.07, 0.09, 0.08, 0.06, 0.07, 0.05, 0.06, 0.04, 0.05, 0.03, 0.04, 0.05, 0.04, 0.06, 0.05, 0.07, 0.06, 0.07],
    [0.01, 0.0, 0.01, 0.02, 0.01, 0.02, 0.01, 0.0, 0.01, 0.0, 0.01, 0.01, 0.0, 0.01, 0.02, 0.01, 0.02, 0.01, 0.02, 0.01, 0.0, 0.01, 0.02, 0.01, 0.02, 0.03, 0.02, 0.03, 0.04, 0.03, 0.04, 0.03],
    [0.0, 0.02, 0.01, 0.03, 0.05, 0.04, 0.06, 0.05, 0.03, 0.04, 0.02, 0.03, 0.05, 0.07, 0.06, 0.08, 0.1, 0.09, 0.07, 0.08, 0.06, 0.07, 0.05, 0.06, 0.04, 0.05, 0.07, 0.06, 0.08, 0.07, 0.09, 0.08],
    [0.01, 0.03, 0.02, 0.01, 0.02, 0.01, 0.02, 0.03, 0.02, 0.04, 0.03, 0.02, 0.03, 0.02, 0.01, 0.02, 0.01, 0.0, 0.01, 0.02, 0.01, 0.02, 0.03, 0.02, 0.01, 0.02, 0.04, 0.03, 0.05, 0.04, 0.06, 0.05],
    [0.0, 0.0, 0.01, 0.0, 0.01, 0.02, 0.01, 0.02, 0.01, 0.02, 0.01, 0.01, 0.02, 0.01, 0.01, 0.02, 0.01, 0.02, 0.01, 0.01, 0.02, 0.03, 0.02, 0.01, 0.02, 0.01, 0.02, 0.03, 0.02, 0.03, 0.02, 0.02],
]

# early outbreak line (Jan - Apr) and two one-day data dumps in July
early_dates = pd.to_datetime(['2020-01-27', '2020-02-03', '2020-02-10', '2020-02-17', '2020-02-24',
                              '2020-03-02', '2020-03-09', '2020-03-16', '2020-03-23', '2020-03-30'])
early_vals = [0.001, 0.003, 0.006, 0.008, 0.009, 0.006, 0.003, 0.002, 0.003, 0.002]
dump_dates = pd.to_datetime(['2020-07-08', '2020-07-16', '2020-07-17', '2020-07-18', '2020-07-22',
                             '2020-07-23', '2020-07-24', '2020-08-01'])
dump_vals = [0.5, 0.55, 3.0, 0.58, 0.62, 3.0, 0.66, 0.45]

yticks = [0, 0.1, 0.2, 0.5, 1.0]
ytick_labels = ['0', '0.1', '0.2', '0.5', '1.0']
months = pd.date_range('2020-02-01', '2020-12-01', freq='MS')
month_labels = [m.strftime('%b') for m in months]


def right_align(vals, length):
    return [n] * (length - len(vals)) + list(vals)


def fwd(v):
    return np.log2(1 + np.clip(v, 0, None))


def inv(v):
    return np.exp2(v) - 1


bg = '#fff1e5'
plt.rcParams['font.family'] = ['Lato', 'DejaVu Sans']
fig = plt.figure(figsize=(13.23, 6.5), dpi=100, facecolor=bg)
ax = fig.add_axes([40 / 1323, 20 / 650, 1132 / 1323, 620.6 / 650])
ax.set_facecolor(bg)
ax.set_yscale('function', functions=(fwd, inv))
ax.set_ylim(0, 1.45)
ax.set_xlim(pd.Timestamp('2020-01-11'), pd.Timestamp('2020-12-05'))

for y in yticks[1:]:
    ax.axhline(y, color='#e6d9ce', lw=1, zorder=0)
for m in months:
    ax.axvline(m, ymax=0.983, color='#e6d9ce', lw=1, zorder=0)

grey_col = '#b4aba4'
for g in grey:
    ax.plot(grey_dates, right_align(g, len(grey_dates)), color=grey_col, lw=0.9, zorder=1)
ax.plot(early_dates, early_vals, color=grey_col, lw=0.9, zorder=1)
ax.plot(dump_dates, dump_vals, color=grey_col, lw=0.9, zorder=1)

ax.axhline(0, color='#9a928c', lw=1.2, zorder=1.5)

for name, s, c in zip(names, series, colors):
    v = right_align(s, len(dates))
    ax.plot(dates, v, color=c, lw=2.4, zorder=3, solid_joinstyle='round')
    ax.plot(dates[-1], v[-1], 'o', color=c, ms=7.5, zorder=4, clip_on=False)
    ax.annotate(name, (dates[-1], v[-1]), xytext=(9, 0), textcoords='offset points',
                va='center', ha='left', color=c, fontsize=12.5, annotation_clip=False)

# soft fade where the lines run off the top
fade = np.zeros((50, 1, 4))
fade[..., :3] = matplotlib.colors.to_rgb(bg)
fade[:, 0, 3] = np.linspace(1, 0, 50)
ax.imshow(fade, extent=(0, 1, 0.97, 1.0), transform=ax.transAxes, aspect='auto', zorder=2.5)

ax.set_yticks(yticks)
ax.set_yticklabels(ytick_labels)
ax.set_xticks(months)
ax.set_xticklabels(month_labels)
ax.tick_params(length=0, colors='#66605c', labelsize=12)
ax.tick_params(axis='y', pad=4)
ax.tick_params(axis='x', pad=2)
for sp in ax.spines.values():
    sp.set_visible(False)

fig.savefig('out.png', dpi=100, facecolor=bg)
